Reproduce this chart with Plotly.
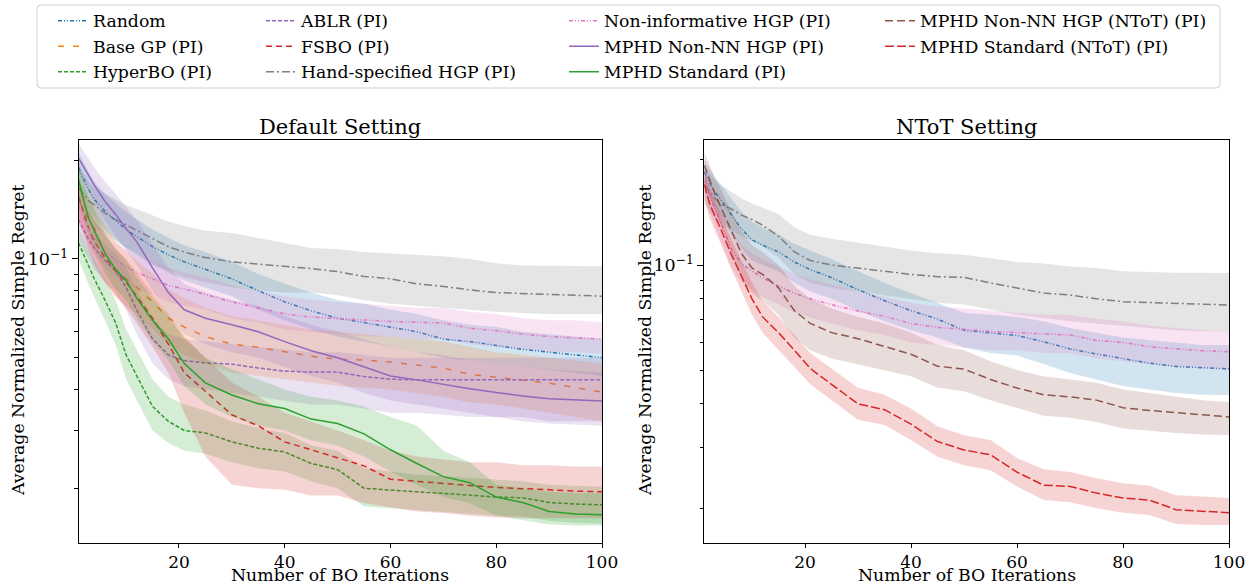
import plotly.graph_objects as go

# Iterations at which the averaged regret curves are sampled
iterations = [1, 2, 3, 4, 6, 8, 10, 12, 15, 18, 21, 25, 30, 35, 40, 45, 50, 55, 60, 65, 70, 75, 80, 85, 90, 95, 100]

# ---- Default setting ----
def_random_mean = [0.190, 0.175, 0.162, 0.152, 0.140, 0.131, 0.123, 0.117, 0.109, 0.103, 0.098, 0.093, 0.087, 0.080, 0.074, 0.0695, 0.066, 0.064, 0.062, 0.060, 0.057, 0.056, 0.0545, 0.053, 0.052, 0.051, 0.050]
def_random_hi = [0.212, 0.196, 0.183, 0.172, 0.158, 0.148, 0.139, 0.132, 0.123, 0.116, 0.110, 0.105, 0.098, 0.090, 0.084, 0.079, 0.075, 0.073, 0.070, 0.068, 0.065, 0.063, 0.062, 0.060, 0.059, 0.058, 0.057]
def_random_lo = [0.170, 0.155, 0.143, 0.134, 0.123, 0.115, 0.108, 0.103, 0.096, 0.091, 0.086, 0.082, 0.077, 0.070, 0.065, 0.061, 0.058, 0.056, 0.054, 0.052, 0.050, 0.049, 0.048, 0.047, 0.046, 0.045, 0.044]

def_basegp_mean = [0.151, 0.140, 0.131, 0.124, 0.104, 0.093, 0.087, 0.082, 0.074, 0.066, 0.062, 0.058, 0.055, 0.0538, 0.052, 0.0505, 0.0495, 0.0492, 0.0485, 0.0475, 0.0465, 0.0445, 0.0435, 0.0427, 0.0418, 0.0405, 0.0393]
def_basegp_hi = [0.175, 0.165, 0.155, 0.147, 0.126, 0.113, 0.105, 0.099, 0.090, 0.081, 0.076, 0.071, 0.067, 0.065, 0.063, 0.061, 0.060, 0.059, 0.058, 0.057, 0.056, 0.054, 0.052, 0.051, 0.050, 0.049, 0.048]
def_basegp_lo = [0.130, 0.118, 0.110, 0.103, 0.086, 0.077, 0.072, 0.068, 0.061, 0.055, 0.051, 0.048, 0.045, 0.044, 0.043, 0.042, 0.041, 0.0405, 0.040, 0.039, 0.038, 0.0365, 0.036, 0.035, 0.034, 0.033, 0.032]

def_hyperbo_mean = [0.112, 0.103, 0.094, 0.087, 0.075, 0.064, 0.051, 0.044, 0.0355, 0.032, 0.030, 0.0295, 0.0277, 0.0265, 0.0258, 0.0238, 0.0228, 0.0200, 0.0198, 0.0195, 0.0193, 0.0190, 0.0188, 0.0187, 0.0181, 0.0179, 0.0178]
def_hyperbo_hi = [0.125, 0.116, 0.107, 0.100, 0.087, 0.075, 0.061, 0.053, 0.043, 0.038, 0.036, 0.0345, 0.032, 0.0305, 0.0295, 0.027, 0.026, 0.023, 0.0225, 0.022, 0.0218, 0.0215, 0.0212, 0.021, 0.0205, 0.0203, 0.0202]
def_hyperbo_lo = [0.100, 0.091, 0.083, 0.076, 0.065, 0.055, 0.043, 0.037, 0.030, 0.0275, 0.026, 0.0255, 0.024, 0.023, 0.0225, 0.021, 0.020, 0.0176, 0.0174, 0.0171, 0.0169, 0.0167, 0.0165, 0.0164, 0.0159, 0.0157, 0.0156]

def_ablr_mean = [0.132, 0.122, 0.114, 0.108, 0.099, 0.092, 0.082, 0.070, 0.057, 0.051, 0.049, 0.0482, 0.0478, 0.0465, 0.0455, 0.0452, 0.0452, 0.0438, 0.0430, 0.0428, 0.0428, 0.0428, 0.0428, 0.0428, 0.0428, 0.0428, 0.0428]
def_ablr_hi = [0.148, 0.137, 0.128, 0.121, 0.111, 0.104, 0.094, 0.081, 0.066, 0.059, 0.057, 0.056, 0.055, 0.054, 0.053, 0.052, 0.052, 0.051, 0.050, 0.050, 0.050, 0.050, 0.050, 0.050, 0.050, 0.050, 0.050]
def_ablr_lo = [0.115, 0.106, 0.099, 0.093, 0.085, 0.079, 0.070, 0.059, 0.048, 0.043, 0.041, 0.040, 0.039, 0.038, 0.037, 0.036, 0.036, 0.035, 0.034, 0.034, 0.0335, 0.033, 0.033, 0.033, 0.032, 0.032, 0.032]

def_fsbo_mean = [0.155, 0.138, 0.123, 0.113, 0.101, 0.092, 0.085, 0.077, 0.066, 0.055, 0.045, 0.0395, 0.0335, 0.031, 0.0277, 0.0262, 0.0248, 0.0234, 0.0213, 0.0210, 0.0208, 0.0204, 0.0201, 0.0200, 0.0198, 0.0196, 0.0195]
def_fsbo_hi = [0.175, 0.158, 0.142, 0.131, 0.118, 0.108, 0.100, 0.091, 0.079, 0.068, 0.058, 0.050, 0.042, 0.038, 0.034, 0.032, 0.030, 0.028, 0.026, 0.025, 0.0245, 0.024, 0.024, 0.0235, 0.0235, 0.0233, 0.0233]
def_fsbo_lo = [0.136, 0.120, 0.106, 0.096, 0.085, 0.077, 0.071, 0.064, 0.054, 0.045, 0.034, 0.025, 0.0205, 0.020, 0.0198, 0.019, 0.019, 0.018, 0.0175, 0.017, 0.0168, 0.0165, 0.0163, 0.0162, 0.0162, 0.0162, 0.0162]

def_hand_mean = [0.165, 0.157, 0.150, 0.146, 0.138, 0.132, 0.127, 0.122, 0.115, 0.109, 0.105, 0.101, 0.098, 0.0965, 0.095, 0.0935, 0.0915, 0.0885, 0.087, 0.084, 0.0825, 0.0805, 0.079, 0.0785, 0.078, 0.0775, 0.077]
def_hand_hi = [0.190, 0.182, 0.172, 0.166, 0.158, 0.152, 0.146, 0.142, 0.136, 0.130, 0.126, 0.122, 0.120, 0.116, 0.112, 0.108, 0.107, 0.105, 0.104, 0.103, 0.102, 0.100, 0.097, 0.0955, 0.0955, 0.0952, 0.095]
def_hand_lo = [0.145, 0.137, 0.130, 0.126, 0.119, 0.113, 0.108, 0.104, 0.097, 0.092, 0.088, 0.085, 0.082, 0.080, 0.079, 0.079, 0.0775, 0.075, 0.073, 0.072, 0.071, 0.070, 0.069, 0.0685, 0.068, 0.068, 0.068]

def_noninf_mean = [0.145, 0.132, 0.123, 0.116, 0.106, 0.099, 0.095, 0.091, 0.087, 0.083, 0.081, 0.078, 0.074, 0.071, 0.068, 0.0665, 0.066, 0.0652, 0.0645, 0.064, 0.0638, 0.0615, 0.0605, 0.059, 0.058, 0.0575, 0.057]
def_noninf_hi = [0.165, 0.150, 0.140, 0.132, 0.120, 0.112, 0.107, 0.103, 0.098, 0.094, 0.091, 0.088, 0.083, 0.080, 0.077, 0.075, 0.074, 0.073, 0.072, 0.071, 0.071, 0.069, 0.068, 0.066, 0.065, 0.065, 0.064]
def_noninf_lo = [0.128, 0.117, 0.109, 0.103, 0.094, 0.088, 0.085, 0.081, 0.078, 0.074, 0.072, 0.070, 0.066, 0.064, 0.061, 0.060, 0.059, 0.058, 0.058, 0.057, 0.057, 0.055, 0.054, 0.053, 0.052, 0.052, 0.0515]

def_nonnn_mean = [0.203, 0.190, 0.178, 0.168, 0.150, 0.137, 0.124, 0.113, 0.094, 0.079, 0.070, 0.066, 0.063, 0.060, 0.056, 0.0525, 0.050, 0.047, 0.044, 0.0428, 0.0415, 0.0402, 0.0392, 0.0382, 0.0375, 0.0372, 0.0369]
def_nonnn_hi = [0.225, 0.212, 0.200, 0.190, 0.172, 0.158, 0.144, 0.132, 0.111, 0.094, 0.084, 0.079, 0.075, 0.072, 0.067, 0.063, 0.060, 0.057, 0.054, 0.052, 0.051, 0.049, 0.048, 0.047, 0.046, 0.0455, 0.045]
def_nonnn_lo = [0.182, 0.170, 0.158, 0.148, 0.131, 0.118, 0.106, 0.096, 0.080, 0.067, 0.059, 0.055, 0.052, 0.050, 0.047, 0.044, 0.042, 0.039, 0.037, 0.036, 0.035, 0.034, 0.033, 0.032, 0.0315, 0.0312, 0.031]

def_std_mean = [0.175, 0.150, 0.132, 0.122, 0.104, 0.093, 0.086, 0.076, 0.065, 0.057, 0.048, 0.0419, 0.0385, 0.0362, 0.0350, 0.0325, 0.0315, 0.0293, 0.0262, 0.0238, 0.0217, 0.0208, 0.0188, 0.0181, 0.0170, 0.0167, 0.0166]
def_std_hi = [0.200, 0.172, 0.152, 0.140, 0.120, 0.107, 0.099, 0.088, 0.076, 0.067, 0.057, 0.050, 0.046, 0.043, 0.040, 0.038, 0.037, 0.0355, 0.033, 0.031, 0.026, 0.024, 0.0205, 0.020, 0.0195, 0.0193, 0.0193]
def_std_lo = [0.155, 0.132, 0.116, 0.107, 0.091, 0.081, 0.075, 0.066, 0.056, 0.049, 0.041, 0.036, 0.033, 0.031, 0.030, 0.028, 0.027, 0.025, 0.0225, 0.0205, 0.0188, 0.018, 0.0165, 0.016, 0.0155, 0.0154, 0.0154]

# ---- NToT setting ----
ntot_random_mean = [0.185, 0.172, 0.162, 0.155, 0.140, 0.127, 0.118, 0.114, 0.109, 0.102, 0.097, 0.092, 0.085, 0.079, 0.074, 0.070, 0.065, 0.064, 0.0628, 0.0603, 0.0575, 0.0556, 0.0538, 0.0523, 0.0512, 0.0507, 0.0504]
ntot_random_hi = [0.200, 0.188, 0.178, 0.171, 0.156, 0.142, 0.133, 0.128, 0.122, 0.115, 0.110, 0.104, 0.096, 0.089, 0.083, 0.078, 0.073, 0.072, 0.071, 0.069, 0.066, 0.064, 0.062, 0.061, 0.060, 0.059, 0.059]
ntot_random_lo = [0.170, 0.156, 0.146, 0.139, 0.124, 0.112, 0.103, 0.100, 0.096, 0.089, 0.084, 0.080, 0.074, 0.069, 0.065, 0.062, 0.058, 0.056, 0.055, 0.052, 0.049, 0.047, 0.045, 0.044, 0.043, 0.0425, 0.0424]

ntot_hand_mean = [0.170, 0.162, 0.155, 0.150, 0.145, 0.139, 0.135, 0.130, 0.121, 0.109, 0.103, 0.100, 0.098, 0.0957, 0.094, 0.0926, 0.0922, 0.0888, 0.086, 0.0831, 0.082, 0.080, 0.0785, 0.078, 0.0776, 0.0772, 0.0768]
ntot_hand_hi = [0.190, 0.182, 0.175, 0.170, 0.162, 0.155, 0.150, 0.146, 0.140, 0.128, 0.122, 0.119, 0.116, 0.113, 0.110, 0.108, 0.107, 0.1045, 0.102, 0.101, 0.099, 0.098, 0.096, 0.0955, 0.095, 0.095, 0.0949]
ntot_hand_lo = [0.150, 0.142, 0.136, 0.131, 0.126, 0.121, 0.117, 0.113, 0.105, 0.094, 0.089, 0.086, 0.084, 0.082, 0.080, 0.078, 0.077, 0.0745, 0.072, 0.0705, 0.069, 0.068, 0.067, 0.066, 0.065, 0.0645, 0.0643]

ntot_noninf_mean = [0.175, 0.158, 0.145, 0.134, 0.112, 0.101, 0.096, 0.092, 0.087, 0.083, 0.080, 0.077, 0.0738, 0.0712, 0.068, 0.0662, 0.0655, 0.0645, 0.064, 0.0635, 0.063, 0.0608, 0.060, 0.0583, 0.0575, 0.0568, 0.0564]
ntot_noninf_hi = [0.190, 0.174, 0.161, 0.150, 0.126, 0.114, 0.108, 0.104, 0.099, 0.094, 0.091, 0.088, 0.084, 0.081, 0.078, 0.076, 0.075, 0.074, 0.073, 0.072, 0.072, 0.070, 0.069, 0.067, 0.066, 0.065, 0.0643]
ntot_noninf_lo = [0.160, 0.142, 0.130, 0.119, 0.099, 0.089, 0.085, 0.081, 0.077, 0.073, 0.071, 0.068, 0.065, 0.063, 0.060, 0.059, 0.058, 0.057, 0.057, 0.056, 0.056, 0.054, 0.053, 0.052, 0.051, 0.0505, 0.050]

ntot_nonnn_mean = [0.193, 0.175, 0.160, 0.148, 0.126, 0.108, 0.098, 0.094, 0.086, 0.074, 0.068, 0.064, 0.0615, 0.0585, 0.0555, 0.0513, 0.0503, 0.047, 0.0444, 0.0425, 0.0419, 0.041, 0.039, 0.0383, 0.0378, 0.0372, 0.0367]
ntot_nonnn_hi = [0.210, 0.193, 0.178, 0.166, 0.144, 0.125, 0.114, 0.109, 0.100, 0.087, 0.080, 0.075, 0.071, 0.068, 0.064, 0.059, 0.057, 0.053, 0.050, 0.048, 0.047, 0.046, 0.044, 0.043, 0.042, 0.041, 0.0405]
ntot_nonnn_lo = [0.176, 0.157, 0.142, 0.130, 0.109, 0.092, 0.083, 0.079, 0.072, 0.062, 0.057, 0.054, 0.052, 0.050, 0.048, 0.0445, 0.0435, 0.041, 0.039, 0.037, 0.0365, 0.0355, 0.034, 0.0335, 0.033, 0.0327, 0.0326]

ntot_std_mean = [0.170, 0.150, 0.138, 0.128, 0.108, 0.093, 0.080, 0.071, 0.064, 0.057, 0.0505, 0.0455, 0.040, 0.0385, 0.035, 0.0312, 0.0295, 0.0286, 0.0255, 0.0234, 0.0232, 0.0222, 0.0215, 0.0212, 0.0199, 0.0197, 0.0195]
ntot_std_hi = [0.186, 0.165, 0.152, 0.141, 0.119, 0.103, 0.089, 0.079, 0.071, 0.063, 0.056, 0.0505, 0.0445, 0.0425, 0.0388, 0.0345, 0.0325, 0.0315, 0.028, 0.026, 0.0255, 0.0245, 0.0237, 0.0233, 0.0219, 0.0217, 0.0215]
ntot_std_lo = [0.155, 0.136, 0.125, 0.116, 0.098, 0.084, 0.072, 0.064, 0.057, 0.051, 0.0455, 0.041, 0.036, 0.0348, 0.0315, 0.0282, 0.0267, 0.0258, 0.0232, 0.0212, 0.0209, 0.0201, 0.0195, 0.0192, 0.0181, 0.0180, 0.018]

x_ticks = [20, 40, 60, 80, 100]

W, H = 1247, 586
# horizontal extent the page actually lays the figure out across
W_LAYOUT = 1231
FONT = "DejaVu Serif"

TAB = {
    "blue": (31, 119, 180), "orange": (255, 127, 14), "green": (44, 160, 44),
    "red": (214, 39, 40), "purple": (148, 103, 189), "brown": (140, 86, 75),
    "pink": (227, 119, 194), "gray": (127, 127, 127),
}
DASH = {
    "dashdotdot": "4px,2px,1px,2px,1px,2px",
    "loose": "6px,9px",
    "short": "4px,2px",
    "medium": "6px,4px",
    "dashdot": "8px,3px,2px,3px",
    "long": "8px,4px",
    "longer": "9px,3px",
    "solid": "solid",
}


def fx(px):
    return px / W_LAYOUT


def fy(py):
    return 1 - py / H


fig = go.Figure()


def add_series(name, mean, lo, hi, color, dash, xa, ya, legend=None):
    r, g, b = TAB[color]
    fig.add_trace(go.Scatter(
        x=iterations + iterations[::-1], y=hi + lo[::-1],
        fill="toself", fillcolor=f"rgba({r},{g},{b},0.2)",
        line=dict(width=0), mode="lines", hoverinfo="skip",
        showlegend=False, xaxis=xa, yaxis=ya,
    ))
    fig.add_trace(go.Scatter(
        x=iterations, y=mean, mode="lines", name=name,
        line=dict(color=f"rgb({r},{g},{b})", width=1.5, dash=DASH[dash]),
        showlegend=legend is not None, legend=legend or "legend",
        legendgroup=name, xaxis=xa, yaxis=ya,
    ))


# Default setting panel
add_series("Random", def_random_mean, def_random_lo, def_random_hi, "blue", "dashdotdot", "x", "y", "legend")
add_series("Base GP (PI)", def_basegp_mean, def_basegp_lo, def_basegp_hi, "orange", "loose", "x", "y", "legend")
add_series("HyperBO (PI)", def_hyperbo_mean, def_hyperbo_lo, def_hyperbo_hi, "green", "short", "x", "y", "legend")
add_series("ABLR (PI)", def_ablr_mean, def_ablr_lo, def_ablr_hi, "purple", "short", "x", "y", "legend2")
add_series("FSBO (PI)", def_fsbo_mean, def_fsbo_lo, def_fsbo_hi, "red", "medium", "x", "y", "legend2")
add_series("Hand-specified HGP (PI)", def_hand_mean, def_hand_lo, def_hand_hi, "gray", "dashdot", "x", "y", "legend2")
add_series("Non-informative HGP (PI)", def_noninf_mean, def_noninf_lo, def_noninf_hi, "pink", "dashdotdot", "x", "y", "legend3")
add_series("MPHD Non-NN HGP (PI)", def_nonnn_mean, def_nonnn_lo, def_nonnn_hi, "purple", "solid", "x", "y", "legend3")
add_series("MPHD Standard (PI)", def_std_mean, def_std_lo, def_std_hi, "green", "solid", "x", "y", "legend3")

# NToT setting panel
add_series("Random", ntot_random_mean, ntot_random_lo, ntot_random_hi, "blue", "dashdotdot", "x2", "y2")
add_series("Hand-specified HGP (PI)", ntot_hand_mean, ntot_hand_lo, ntot_hand_hi, "gray", "dashdot", "x2", "y2")
add_series("Non-informative HGP (PI)", ntot_noninf_mean, ntot_noninf_lo, ntot_noninf_hi, "pink", "dashdotdot", "x2", "y2")
add_series("MPHD Non-NN HGP (NToT) (PI)", ntot_nonnn_mean, ntot_nonnn_lo, ntot_nonnn_hi, "brown", "long", "x2", "y2", "legend4")
add_series("MPHD Standard (NToT) (PI)", ntot_std_mean, ntot_std_lo, ntot_std_hi, "red", "longer", "x2", "y2", "legend4")

minor_vals = [0.02, 0.03, 0.04, 0.05, 0.06, 0.07, 0.08, 0.09, 0.2]
tick_font = dict(family=FONT, size=17, color="black")


def x_axis(domain, anchor):
    return dict(
        domain=domain, anchor=anchor, range=[1, 100], tickvals=x_ticks,
        ticks="outside", ticklen=3.5, tickwidth=1, tickcolor="black",
        showline=True, mirror=True, linecolor="black", linewidth=1,
        showgrid=False, zeroline=False, tickfont=tick_font,
    )


def y_axis(domain, anchor, rng):
    return dict(
        domain=domain, anchor=anchor, type="log", range=rng,
        tickvals=[0.1], ticktext=["10<sup>−1</sup>"],
        ticks="outside", ticklen=6, tickwidth=1, tickcolor="black",
        minor=dict(tickvals=minor_vals, ticks="outside", ticklen=3.5,
                   tickwidth=0.8, tickcolor="black", showgrid=False),
        showline=True, mirror=True, linecolor="black", linewidth=1,
        showgrid=False, zeroline=False, tickfont=dict(tick_font, size=17.5),
    )


y_dom = [fy(543), fy(139.5)]
left_dom = [fx(78.5), fx(602)]
right_dom = [fx(704.3), fx(1229)]

legend_common = dict(
    orientation="v", xanchor="left", yanchor="top",
    bgcolor="rgba(0,0,0,0)", borderwidth=0, tracegroupgap=0,
    font=dict(family=FONT, size=17.3, color="black"), itemwidth=30,
)
legend_top = fy(3)

fig.update_layout(
    width=W, height=H, margin=dict(l=0, r=0, t=0, b=0),
    paper_bgcolor="white", plot_bgcolor="white",
    font=dict(family=FONT, color="black"),
    xaxis=x_axis(left_dom, "y"), yaxis=y_axis(y_dom, "x", [-1.8659, -0.6357]),
    xaxis2=x_axis(right_dom, "y2"), yaxis2=y_axis(y_dom, "x2", [-1.7966, -0.6404]),
    legend=dict(legend_common, x=fx(53), y=legend_top),
    legend2=dict(legend_common, x=fx(261), y=legend_top),
    legend3=dict(legend_common, x=fx(564), y=legend_top),
    legend4=dict(legend_common, x=fx(880), y=legend_top),
    showlegend=True,
)

# Rounded frame around the legend block
x0, x1, y0, y1 = fx(37), fx(1220), fy(88), fy(5)
rx, ry = fx(4), 4 / H
frame = (f"M {x0 + rx} {y1} L {x1 - rx} {y1} Q {x1} {y1} {x1} {y1 - ry} "
         f"L {x1} {y0 + ry} Q {x1} {y0} {x1 - rx} {y0} "
         f"L {x0 + rx} {y0} Q {x0} {y0} {x0} {y0 + ry} "
         f"L {x0} {y1 - ry} Q {x0} {y1} {x0 + rx} {y1} Z")
fig.add_shape(type="path", path=frame, xref="paper", yref="paper",
              line=dict(color="#d0d0d0", width=1), fillcolor="rgba(0,0,0,0)", layer="below")

# Panel titles and axis labels
ann_font = dict(family=FONT, size=17.3, color="black")
for cx, title in [((left_dom[0] + left_dom[1]) / 2, "Default Setting"),
                  ((right_dom[0] + right_dom[1]) / 2, "NToT Setting")]:
    fig.add_annotation(x=cx, y=fy(127), xref="paper", yref="paper", text=title,
                       showarrow=False, xanchor="center", yanchor="middle",
                       font=dict(family=FONT, size=21, color="black"))
    fig.add_annotation(x=cx, y=0, xref="paper", yref="paper",
                       text="Number of BO Iterations", showarrow=False, borderpad=0,
                       xanchor="center", yanchor="bottom", font=ann_font)

for lx in [fx(18), fx(645)]:
    fig.add_annotation(x=lx, y=fy(341), xref="paper", yref="paper",
                       text="Average Normalized Simple Regret", textangle=-90,
                       showarrow=False, xanchor="center", yanchor="middle", font=ann_font)

fig.write_html("out.html")
